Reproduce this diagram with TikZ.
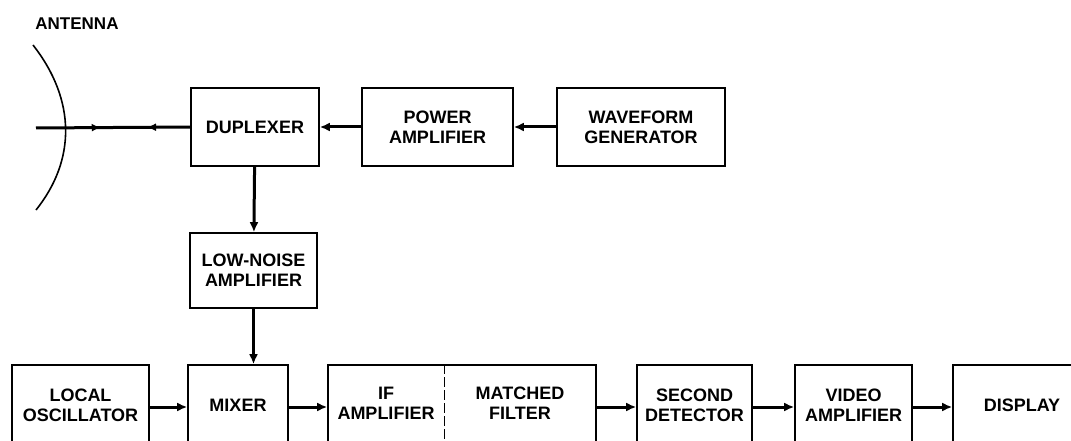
\documentclass[tikz,border=0pt]{standalone}
\usepackage{fontspec}
\setmainfont{Liberation Sans}
\usetikzlibrary{arrows.meta,decorations.markings,calc}
\begin{document}
\begin{tikzpicture}[x=1pt,y=-1pt,
  blk/.style={draw,line width=1.6pt,minimum height=78pt,inner sep=0pt,
    font=\fontsize{18}{20}\selectfont\bfseries,align=center},
  lbl/.style={font=\fontsize{18}{20}\selectfont\bfseries,align=center,inner sep=0pt},
  conn/.style={line width=3pt,-{Latex[length=10pt,width=9pt]}},
  every node/.append style={text=black}]
\useasboundingbox (0,0) rectangle (1071,441);
\clip (0,0) rectangle (1071,441);
% antenna
\node[lbl,font=\fontsize{17}{19}\selectfont\bfseries] (antlbl) at (77,24) {ANTENNA};
\draw[line width=1.6pt] (33,45) .. controls (76,100) and (76,160) .. (36,210);
\coordinate (ant) at (36,128);
% top row
\node[blk,minimum width=128pt] (dup) at (255,127) {DUPLEXER};
\node[blk,minimum width=151pt] (pa) at (437.5,127) {POWER\\AMPLIFIER};
\node[blk,minimum width=168pt] (wg) at (641,127) {WAVEFORM\\GENERATOR};
\node[blk,minimum width=127pt,minimum height=75pt] (lna) at (253.5,270.5) {LOW-NOISE\\AMPLIFIER};
% bottom row
\node[blk,minimum width=137pt,minimum height=80pt] (lo) at (80.5,405) {LOCAL\\OSCILLATOR};
\node[blk,minimum width=100pt,minimum height=80pt] (mix) at (238,405) {MIXER};
\node[blk,minimum width=268pt,minimum height=80pt] (ifmf) at (462,405) {};
\node[lbl] (iftxt) at (386,403) {IF\\AMPLIFIER};
\node[lbl] (mftxt) at (520,403) {MATCHED\\FILTER};
\path (ifmf.north west) ++(117,0) coordinate (dt);
\draw[line width=1.2pt,dash pattern=on 10pt off 3pt] (dt) -- (dt |- ifmf.south);
\node[blk,minimum width=115pt,minimum height=80pt] (sd) at (694.5,405) {SECOND\\DETECTOR};
\node[blk,minimum width=117pt,minimum height=80pt] (va) at (853.5,405) {VIDEO\\AMPLIFIER};
\node[blk,minimum width=138pt,minimum height=80pt] (disp) at (1022,405) {DISPLAY};
% connectors
\draw[line width=3pt,postaction={decorate,decoration={markings,
   mark=at position 0.42 with {\arrow{Latex[length=9pt,width=8pt]}},
   mark=at position 0.72 with {\arrowreversed{Latex[length=9pt,width=8pt]}}}}]
   (ant) -- (dup.west);
\draw[conn] (pa) -- (dup);
\draw[conn] (wg) -- (pa);
\draw[conn] (dup) -- (lna);
\draw[conn] (lna.south) -- (lna.south |- mix.north);
\draw[conn] (lo.east |- 0,407) -- (mix.west |- 0,407);
\draw[conn] (mix.east |- 0,407) -- (ifmf.west |- 0,407);
\draw[conn] (ifmf.east |- 0,407) -- (sd.west |- 0,407);
\draw[conn] (sd.east |- 0,407) -- (va.west |- 0,407);
\draw[conn] (va.east |- 0,407) -- (disp.west |- 0,407);
\end{tikzpicture}
\end{document}
